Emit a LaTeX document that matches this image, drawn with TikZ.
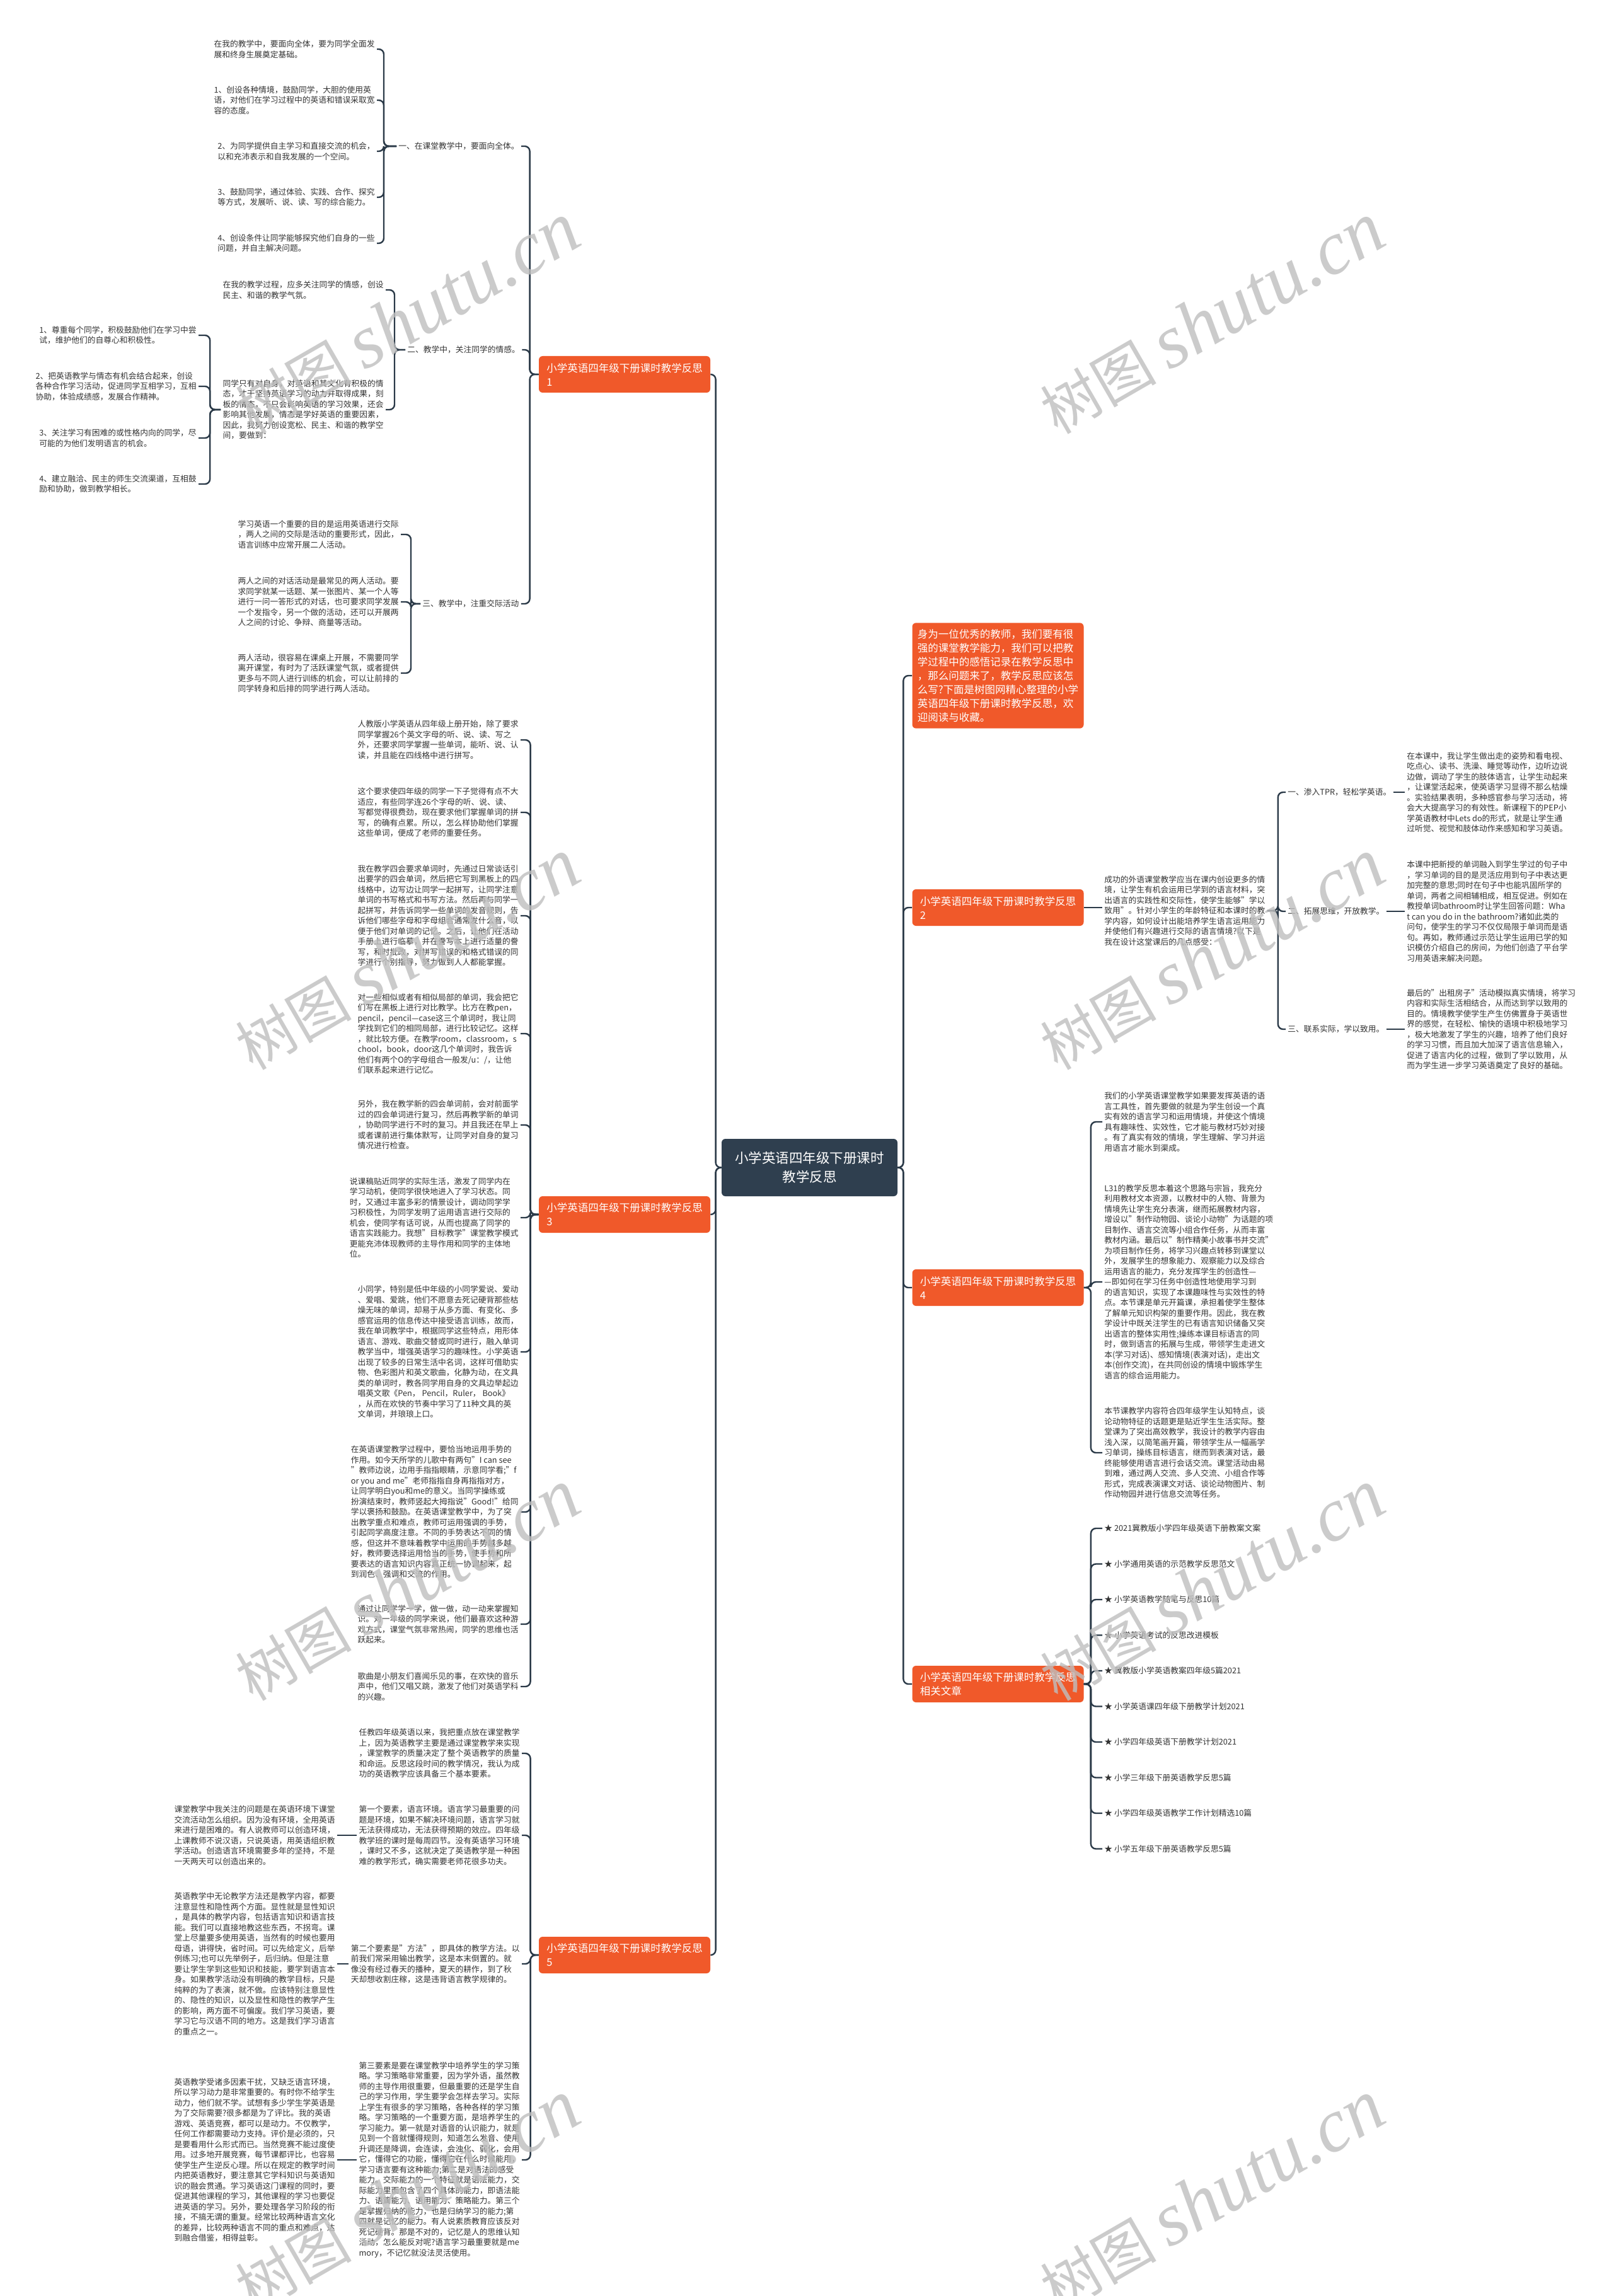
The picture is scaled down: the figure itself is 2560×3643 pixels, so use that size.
\documentclass[tikz,border=0pt]{standalone}
\usepackage{fontspec}
\setmainfont{Noto Sans CJK SC}
\newfontfamily\wmlatin{Liberation Serif}
\usetikzlibrary{positioning,calc}
\definecolor{topicRed}{HTML}{F0592A}
\definecolor{rootNavy}{HTML}{2F3F4F}
\definecolor{lineCol}{HTML}{2B3A48}
\definecolor{leafText}{HTML}{333333}
\newcommand\leaffont{\fontsize{6.375pt}{8.25pt}\selectfont}
\newcommand\topicfont{\fontsize{8.25pt}{11pt}\selectfont}
\newcommand\rootfont{\fontsize{10.75pt}{15pt}\selectfont}

\begin{document}
\begin{tikzpicture}[
  x=0.5pt, y=-0.5pt,
  leaf/.style={font=\leaffont, text=leafText, align=left, inner sep=1.5pt},
  sublbl/.style={font=\leaffont, text=leafText, inner sep=1.5pt},
  topic/.style={fill=topicRed, text=white, font=\topicfont, align=left, rounded corners=3pt, inner xsep=6pt, inner ysep=4.5pt, minimum width=136pt, minimum height=29pt},
  root/.style={fill=rootNavy, text=white, font=\rootfont, align=center, rounded corners=3pt, minimum width=139.5pt, minimum height=45.5pt},
  conn/.style={draw=lineCol, line width=1.2pt, rounded corners=4pt},
  wm/.style={text=black!25, opacity=0.8, rotate=30, font=\fontsize{46pt}{50pt}\selectfont}
]
\useasboundingbox[fill=white] (0,0) rectangle (2560,3643);

% ============================================================
% ROOT + TOPICS
% ============================================================
\node[root] (root) at (1284.5,1852.5) {小学英语四年级下册课时\\教学反思};

\node[topic] (b1) at (991,594) {小学英语四年级下册课时教学反思\\1};
\node[topic] (b3) at (991,1927) {小学英语四年级下册课时教学反思\\3};
\node[topic] (b6) at (991,3102) {小学英语四年级下册课时教学反思\\5};

\node[topic, inner xsep=4pt, inner ysep=5pt] (intro) at (1583.5,1072) {身为一位优秀的教师，我们要有很\\强的课堂教学能力，我们可以把教\\学过程中的感悟记录在教学反思中\\，那么问题来了，教学反思应该怎\\么写?下面是树图网精心整理的小学\\英语四年级下册课时教学反思，欢\\迎阅读与收藏。};
\node[topic] (b2) at (1583.5,1440) {小学英语四年级下册课时教学反思\\2};
\node[topic] (b4) at (1583.5,2043) {小学英语四年级下册课时教学反思\\4};
\node[topic] (b5) at (1583.5,2672) {小学英语四年级下册课时教学反思\\相关文章};

\foreach \b in {b1,b3,b6}
  \draw[conn] (root.west) -- ++(-9,0) |- (\b.east);
\foreach \b in {intro,b2,b4,b5}
  \draw[conn] (root.east) -- ++(9,0) |- (\b.west);

% ============================================================
% TOPIC 1
% ============================================================
\node[sublbl, anchor=west] (s1) at (629,232) {一、在课堂教学中，要面向全体。};
\node[sublbl, anchor=west] (s2) at (643,555) {二、教学中，关注同学的情感。};
\node[sublbl, anchor=west] (s3) at (667,958) {三、教学中，注重交际活动};

\node[leaf, anchor=east] (s11) at (598,78) {在我的教学中，要面向全体，要为同学全面发\\展和终身生展奠定基础。};
\node[leaf, anchor=east] (s12) at (598,159) {1、创设各种情境，鼓励同学，大胆的使用英\\语，对他们在学习过程中的英语和错误采取宽\\容的态度。};
\node[leaf, anchor=east] (s13) at (598,240) {2、为同学提供自主学习和直接交流的机会，\\以和充沛表示和自我发展的一个空间。};
\node[leaf, anchor=east] (s14) at (598,313) {3、鼓励同学，通过体验、实践、合作、探究\\等方式，发展听、说、读、写的综合能力。};
\node[leaf, anchor=east] (s15) at (598,386) {4、创设条件让同学能够探究他们自身的一些\\问题，并自主解决问题。};

\node[leaf, anchor=east] (s21) at (612,460) {在我的教学过程，应多关注同学的情感，创设\\民主、和谐的教学气氛。};
\node[leaf, anchor=east] (s22) at (612,650) {同学只有对自身，对英语和其文化有积极的情\\态，才干坚持英语学习的动力并取得成果，刻\\板的情态，不只会影响英语的学习效果，还会\\影响其他发展，情态是学好英语的重要因素，\\因此，我努力创设宽松、民主、和谐的教学空\\间，要做到：};
\node[leaf, anchor=east] (g1) at (315,532) {1、尊重每个同学，积极鼓励他们在学习中尝\\试，维护他们的自尊心和积极性。};
\node[leaf, anchor=east] (g2) at (315,613) {2、把英语教学与情态有机会结合起来，创设\\各种合作学习活动，促进同学互相学习，互相\\协助，体验成绩感，发展合作精神。};
\node[leaf, anchor=east] (g3) at (315,695) {3、关注学习有困难的或性格内向的同学，尽\\可能的为他们发明语言的机会。};
\node[leaf, anchor=east] (g4) at (315,768) {4、建立融洽、民主的师生交流渠道，互相鼓\\励和协助，做到教学相长。};

\node[leaf, anchor=east] (s31) at (636,848) {学习英语一个重要的目的是运用英语进行交际\\，两人之间的交际是活动的重要形式，因此，\\语言训练中应常开展二人活动。};
\node[leaf, anchor=east] (s32) at (636,955) {两人之间的对话活动是最常见的两人活动。要\\求同学就某一话题、某一张图片、某一个人等\\进行一问一答形式的对话，也可要求同学发展\\一个发指令，另一个做的活动，还可以开展两\\人之间的讨论、争辩、商量等活动。};
\node[leaf, anchor=east] (s33) at (636,1068) {两人活动，很容易在课桌上开展，不需要同学\\离开课堂，有时为了活跃课堂气氛，或者提供\\更多与不同人进行训练的机会，可以让前排的\\同学转身和后排的同学进行两人活动。};

\foreach \c in {s1,s2,s3}
  \draw[conn] (b1.west) -- ++(-14,0) |- (\c.east);
\foreach \c in {s11,s12,s13,s14,s15}
  \draw[conn] (s1.west) -- ++(-20,0) |- (\c.east);
\foreach \c in {s21,s22}
  \draw[conn] (s2.west) -- ++(-17,0) |- (\c.east);
\foreach \c in {g1,g2,g3,g4}
  \draw[conn] (s22.west) -- ++(-17,0) |- (\c.east);
\foreach \c in {s31,s32,s33}
  \draw[conn] (s3.west) -- ++(-15,0) |- (\c.east);

% ============================================================
% TOPIC 3
% ============================================================
\node[leaf, anchor=east] (p1) at (826,1174) {人教版小学英语从四年级上册开始，除了要求\\同学掌握26个英文字母的听、说、读、写之\\外，还要求同学掌握一些单词，能听、说、认\\读，并且能在四线格中进行拼写。};
\node[leaf, anchor=east] (p2) at (826,1289) {这个要求使四年级的同学一下子觉得有点不大\\适应，有些同学连26个字母的听、说、读、\\写都觉得很费劲，现在要求他们掌握单词的拼\\写，的确有点累。所以，怎么样协助他们掌握\\这些单词，便成了老师的重要任务。};
\node[leaf, anchor=east] (p3) at (826,1453) {我在教学四会要求单词时，先通过日常谈话引\\出要学的四会单词，然后把它写到黑板上的四\\线格中，边写边让同学一起拼写，让同学注意\\单词的书写格式和书写方法。然后再与同学一\\起拼写，并告诉同学一些单词的发音规则，告\\诉他们哪些字母和字母组合通常发什么音，以\\便于他们对单词的记忆。之后，让他们在活动\\手册上进行临摹，并在誊写本上进行适量的誊\\写，和时批改，对拼写错误的和格式错误的同\\学进行个别指导，努力做到人人都能掌握。};
\node[leaf, anchor=east] (p4) at (826,1640) {对一些相似或者有相似局部的单词，我会把它\\们写在黑板上进行对比教学。比方在教pen，\\pencil，pencil—case这三个单词时，我让同\\学找到它们的相同局部，进行比较记忆。这样\\，就比较方便。在教学room，classroom，s\\chool，book，door这几个单词时，我告诉\\他们有两个O的字母组合一般发/u：/，让他\\们联系起来进行记忆。};
\node[leaf, anchor=east] (p5) at (826,1785) {另外，我在教学新的四会单词前，会对前面学\\过的四会单词进行复习，然后再教学新的单词\\，协助同学进行不时的复习。并且我还在早上\\或者课前进行集体默写，让同学对自身的复习\\情况进行检查。};
\node[leaf, anchor=east] (p6) at (826,1932) {说课稿贴近同学的实际生活，激发了同学内在\\学习动机，使同学很快地进入了学习状态。同\\时，又通过丰富多彩的情景设计，调动同学学\\习积极性，为同学发明了运用语言进行交际的\\机会，使同学有话可说，从而也提高了同学的\\语言实践能力。我想"目标教学"课堂教学模式\\更能充沛体现教师的主导作用和同学的主体地\\位。};
\node[leaf, anchor=east] (p7) at (826,2145) {小同学，特别是低中年级的小同学爱说、爱动\\、爱唱、爱跳，他们不愿意去死记硬背那些枯\\燥无味的单词，却易于从多方面、有变化、多\\感官运用的信息传达中接受语言训练，故而，\\我在单词教学中，根据同学这些特点，用形体\\语言、游戏、歌曲交替或同时进行，融入单词\\教学当中，增强英语学习的趣味性。小学英语\\出现了较多的日常生活中名词，这样可借助实\\物、色彩图片和英文歌曲，化静为动，在文具\\类的单词时，教各同学用自身的文具边举起边\\唱英文歌《Pen， Pencil，Ruler， Book》\\，从而在欢快的节奏中学习了11种文具的英\\文单词，并琅琅上口。};
\node[leaf, anchor=east] (p8) at (826,2399) {在英语课堂教学过程中，要恰当地运用手势的\\作用。如今天所学的儿歌中有两句"I can see\\"教师边说，边用手指指眼睛，示意同学看;"f\\or you and me"老师指指自身再指指对方，\\让同学明白you和me的意义。当同学操练或\\扮演结束时，教师竖起大拇指说"Good!"给同\\学以褒扬和鼓励。在英语课堂教学中，为了突\\出教学重点和难点，教师可运用强调的手势，\\引起同学高度注意。不同的手势表达不同的情\\感，但这并不意味着教学中运用的手势越多越\\好，教师要选择运用恰当的手势，使手势和所\\要表达的语言知识内容真正统一协调起来，起\\到润色、强调和交流的作用。};
\node[leaf, anchor=east] (p9) at (826,2577) {通过让同学学一学，做一做，动一动来掌握知\\识。对一年级的同学来说，他们最喜欢这种游\\戏方式，课堂气氛非常热闹，同学的思维也活\\跃起来。};
\node[leaf, anchor=east] (p10) at (826,2676) {歌曲是小朋友们喜闻乐见的事，在欢快的音乐\\声中，他们又唱又跳，激发了他们对英语学科\\的兴趣。};

\foreach \c in {p1,p2,p3,p4,p5,p6,p7,p8,p9,p10}
  \draw[conn] (b3.west) -- ++(-13,0) |- (\c.east);

% ============================================================
% TOPIC 5
% ============================================================
\node[leaf, anchor=east] (q1) at (828,2782) {任教四年级英语以来，我把重点放在课堂教学\\上，因为英语教学主要是通过课堂教学来实现\\，课堂教学的质量决定了整个英语教学的质量\\和命运。反思这段时间的教学情况，我认为成\\功的英语教学应该具备三个基本要素。};
\node[leaf, anchor=east] (q2) at (828,2912) {第一个要素，语言环境。语言学习最重要的问\\题是环境，如果不解决环境问题，语言学习就\\无法获得成功，无法获得预期的效应。四年级\\教学班的课时是每周四节。没有英语学习环境\\，课时又不多，这就决定了英语教学是一种困\\难的教学形式，确实需要老师花很多功夫。};
\node[leaf, anchor=east] (q3) at (828,3116) {第二个要素是"方法"，即具体的教学方法。以\\前我们常采用输出教学，这是本末倒置的。就\\像没有经过春天的播种，夏天的耕作，到了秋\\天却想收割庄稼，这是违背语言教学规律的。};
\node[leaf, anchor=east] (q4) at (828,3427) {第三要素是要在课堂教学中培养学生的学习策\\略。学习策略非常重要，因为学外语，虽然教\\师的主导作用很重要，但最重要的还是学生自\\己的学习作用，学生要学会怎样去学习。实际\\上学生有很多的学习策略，各种各样的学习策\\略。学习策略的一个重要方面，是培养学生的\\学习能力。第一就是对语音的认识能力，就是\\见到一个音就懂得规则，知道怎么发音、使用\\升调还是降调，会连读，会浊化、弱化，会用\\它，懂得它的功能，懂得它在什么时候能用，\\学习语言要有这种能力;第二是对语法的感受\\能力。交际能力的一个特征就是语法能力，交\\际能力里面包含了四个具体的能力，即语法能\\力、语篇能力、语用能力、策略能力。第三个\\是掌握归纳的能力，也是归纳学习的能力;第\\四就是记忆的能力。有人说素质教育应该反对\\死记硬背。那是不对的，记忆是人的思维认知\\活动，怎么能反对呢?语言学习最重要就是me\\mory，不记忆就没法灵活使用。};

\node[leaf, anchor=east] (q21) at (535,2912) {课堂教学中我关注的问题是在英语环境下课堂\\交流活动怎么组织。因为没有环境，全用英语\\来进行是困难的。有人说教师可以创造环境，\\上课教师不说汉语，只说英语，用英语组织教\\学活动。创造语言环境需要多年的坚持，不是\\一天两天可以创造出来的。};
\node[leaf, anchor=east] (q31) at (535,3116) {英语教学中无论教学方法还是教学内容，都要\\注意显性和隐性两个方面。显性就是显性知识\\，是具体的教学内容，包括语言知识和语言技\\能。我们可以直接地教这些东西，不拐弯。课\\堂上尽量要多使用英语，当然有的时候也要用\\母语，讲得快，省时间。可以先给定义，后举\\例练习;也可以先举例子，后归纳。但是注意\\要让学生学到这些知识和技能，要学到语言本\\身。如果教学活动没有明确的教学目标，只是\\纯粹的为了表演，就不做。应该特别注意显性\\的、隐性的知识，以及显性和隐性的教学产生\\的影响，两方面不可偏废。我们学习英语，要\\学习它与汉语不同的地方。这是我们学习语言\\的重点之一。};
\node[leaf, anchor=east] (q41) at (535,3427) {英语教学受诸多因素干扰，又缺乏语言环境，\\所以学习动力是非常重要的。有时你不给学生\\动力，他们就不学。试想有多少学生学英语是\\为了交际需要?很多都是为了评比。我的英语\\游戏、英语竞赛，都可以是动力。不仅教学，\\任何工作都需要动力支持。评价是必须的，只\\是要看用什么形式而已。当然竞赛不能过度使\\用。过多地开展竞赛，每节课都评比，也容易\\使学生产生逆反心理。所以在规定的教学时间\\内把英语教好，要注意其它学科知识与英语知\\识的融会贯通。学习英语这门课程的同时，要\\促进其他课程的学习，其他课程的学习也要促\\进英语的学习。另外，要处理各学习阶段的衔\\接，不搞无谓的重复。经常比较两种语言文化\\的差异，比较两种语言不同的重点和难点，达\\到融合借鉴，相得益彰。};

\foreach \c in {q1,q2,q3,q4}
  \draw[conn] (b6.west) -- ++(-13,0) |- (\c.east);
\draw[conn] (q2.west) -- (q21.east);
\draw[conn] (q3.west) -- (q31.east);
\draw[conn] (q4.west) -- (q41.east);

% ============================================================
% TOPIC 2
% ============================================================
\node[leaf, anchor=west] (b2i) at (1749,1445) {成功的外语课堂教学应当在课内创设更多的情\\境，让学生有机会运用已学到的语言材料，突\\出语言的实践性和交际性，使学生能够"学以\\致用"。针对小学生的年龄特征和本课时的教\\学内容，如何设计出能培养学生语言运用能力\\并使他们有兴趣进行交际的语言情境?以下是\\我在设计这堂课后的几点感受：};
\draw[conn] (b2.east) -- (b2.east -| b2i.west);

\node[sublbl, anchor=west] (t1) at (2040,1257) {一、渗入TPR，轻松学英语。};
\node[sublbl, anchor=west] (t2) at (2040,1446) {二、拓展思维，开放教学。};
\node[sublbl, anchor=west] (t3) at (2040,1633) {三、联系实际，学以致用。};

\node[leaf, anchor=west] (t1l) at (2229,1257) {在本课中，我让学生做出走的姿势和看电视、\\吃点心、读书、洗澡、睡觉等动作，边听边说\\边做，调动了学生的肢体语言，让学生动起来\\，让课堂活起来，使英语学习显得不那么枯燥\\。实验结果表明，多种感官参与学习活动，将\\会大大提高学习的有效性。新课程下的PEP小\\学英语教材中Lets do的形式，就是让学生通\\过听觉、视觉和肢体动作来感知和学习英语。};
\node[leaf, anchor=west] (t2l) at (2229,1446) {本课中把新授的单词融入到学生学过的句子中\\，学习单词的目的是灵活应用到句子中表达更\\加完整的意思;同时在句子中也能巩固所学的\\单词，两者之间相辅相成，相互促进。例如在\\教授单词bathroom时让学生回答问题：Wha\\t can you do in the bathroom?诸如此类的\\问句，使学生的学习不仅仅局限于单词而是语\\句。再如，教师通过示范让学生运用已学的知\\识模仿介绍自己的房间，为他们创造了平台学\\习用英语来解决问题。};
\node[leaf, anchor=west] (t3l) at (2229,1633) {最后的"出租房子"活动模拟真实情境，将学习\\内容和实际生活相结合，从而达到学以致用的\\目的。情境教学使学生产生仿佛置身于英语世\\界的感觉，在轻松、愉快的语境中积极地学习\\，极大地激发了学生的兴趣，培养了他们良好\\的学习习惯，而且加大加深了语言信息输入，\\促进了语言内化的过程，做到了学以致用，从\\而为学生进一步学习英语奠定了良好的基础。};

\foreach \c in {t1,t2,t3}
  \draw[conn] (b2i.east) -- ++(17,0) |- (\c.west);
\draw[conn] (t1.east) -- (t1l.west);
\draw[conn] (t2.east) -- (t2l.west);
\draw[conn] (t3.east) -- (t3l.west);

% ============================================================
% TOPIC 4
% ============================================================
\node[leaf, anchor=west] (r1) at (1749,1780) {我们的小学英语课堂教学如果要发挥英语的语\\言工具性，首先要做的就是为学生创设一个真\\实有效的语言学习和运用情境，并使这个情境\\具有趣味性、实效性，它才能与教材巧妙对接\\。有了真实有效的情境，学生理解、学习并运\\用语言才能水到渠成。};
\node[leaf, anchor=west] (r2) at (1749,2034) {L31的教学反思本着这个思路与宗旨，我充分\\利用教材文本资源，以教材中的人物、背景为\\情境先让学生充分表演，继而拓展教材内容，\\增设以"制作动物园、谈论小动物"为话题的项\\目制作、语言交流等小组合作任务，从而丰富\\教材内涵。最后以"制作精美小故事书并交流"\\为项目制作任务，将学习兴趣点转移到课堂以\\外，发展学生的想象能力、观察能力以及综合\\运用语言的能力，充分发挥学生的创造性—\\—即如何在学习任务中创造性地使用学习到\\的语言知识，实现了本课趣味性与实效性的特\\点。本节课是单元开篇课，承担着使学生整体\\了解单元知识构架的重要作用。因此，我在教\\学设计中既关注学生的已有语言知识储备又突\\出语言的整体实用性;操练本课目标语言的同\\时，做到语言的拓展与生成，带领学生走进文\\本(学习对话)、感知情境(表演对话)，走出文\\本(创作交流)，在共同创设的情境中锻炼学生\\语言的综合运用能力。};
\node[leaf, anchor=west] (r3) at (1749,2305) {本节课教学内容符合四年级学生认知特点，谈\\论动物特征的话题更是贴近学生生活实际。整\\堂课为了突出高效教学，我设计的教学内容由\\浅入深，以简笔画开篇，带领学生从一幅画学\\习单词，操练目标语言，继而到表演对话，最\\终能够使用语言进行会话交流。课堂活动由易\\到难，通过两人交流、多人交流、小组合作等\\形式，完成表演课文对话、谈论动物图片、制\\作动物园并进行信息交流等任务。};

\foreach \c in {r1,r2,r3}
  \draw[conn] (b4.east) -- ++(11,0) |- (\c.west);

% ============================================================
% RELATED ARTICLES
% ============================================================
\foreach \t [count=\i] in {2021冀教版小学四年级英语下册教案文案, 小学通用英语的示范教学反思范文, 小学英语教学随笔与反思10篇, 小学英语考试的反思改进模板, 冀教版小学英语教案四年级5篇2021, 小学英语课四年级下册教学计划2021, 小学四年级英语下册教学计划2021, 小学三年级下册英语教学反思5篇, 小学四年级英语教学工作计划精选10篇, 小学五年级下册英语教学反思5篇}
  \node[sublbl, anchor=west] (a\i) at (1749,{2425+56.5*(\i-1)}) {★ \t};
\foreach \i in {1,...,10}
  \draw[conn] (b5.east) -- ++(11,0) |- (a\i.west);

% ============================================================
% WATERMARK
% ============================================================
\foreach \wx in {646,1923}
  \foreach \wy in {506,1515,2516,3485}
    \node[wm] (wm\wx\wy) at (\wx,\wy) {树图 {\wmlatin\itshape\fontsize{60pt}{64pt}\selectfont shutu.cn}};

\end{tikzpicture}
\end{document}
